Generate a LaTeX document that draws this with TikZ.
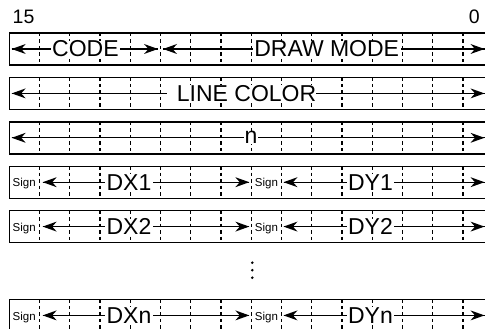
\documentclass[tikz,border=0pt]{standalone}
\usepackage{fontspec}
\setmainfont{Liberation Sans}
\usetikzlibrary{calc}
\newcommand\lefthead[1]{\fill (#1) -- ++(14,-5) -- ++(-4.5,5) -- ++(4.5,5) -- cycle;}
\newcommand\righthead[1]{\fill (#1) -- ++(-14,-5) -- ++(4.5,5) -- ++(-4.5,5) -- cycle;}
\begin{document}
\begin{tikzpicture}[x=1pt,y=-1pt,
 rowbox/.style={draw, line width=1.4pt, minimum width=484pt, minimum height=32pt, anchor=north west, inner sep=0pt, outer sep=0pt},
 cellsep/.style={line width=1.1pt, dash pattern=on 3.5pt off 3pt},
 fieldarrow/.style={line width=1.1pt},
 lbl/.style={fill=white, inner xsep=1.5pt, inner ysep=0pt, font=\fontsize{23}{23}\selectfont},
 sgn/.style={fill=white, inner sep=0.6pt, anchor=base, font=\fontsize{11.5}{12}\selectfont},
 bitnum/.style={font=\fontsize{19.5}{20}\selectfont, inner sep=0pt},
 dotmark/.style={fill=black, circle, inner sep=0pt, minimum size=2.8pt}]
\useasboundingbox (0,0) rectangle (485,329);
% rows
\foreach \r/\t in {1/33, 2/77.4, 3/121.8, 4/166.2, 5/210.6, 6/299.4}{
  \node[rowbox] (row\r) at (9.2,\t) {};
  \foreach \k in {1,...,15}{
    \draw[cellsep] ($(row\r.north west)+(30.25*\k,0)$) -- ++(0,32);
  }
}
% bit numbers
\node[bitnum, anchor=base west] (b15) at (12.5,24) {15};
\node[bitnum, anchor=base east] (b0) at (480,24) {0};
% row 1
\coordinate (c1a) at (11.7,49);
\coordinate (c1b) at (158,49);
\coordinate (c1c) at (163,49);
\coordinate (c1d) at (484.5,49);
\draw[fieldarrow] (c1a) -- (c1b);
\draw[fieldarrow] (c1c) -- (c1d);
\lefthead{c1a}\righthead{c1b}\lefthead{c1c}\righthead{c1d}
\node[lbl] (code) at (85.4,49) {CODE};
\node[lbl] (drawmode) at (326.7,49) {DRAW MODE};
% row 2
\coordinate (c2a) at (11.7,93.4);
\coordinate (c2b) at (484.5,93.4);
\draw[fieldarrow] (c2a) -- (c2b);
\lefthead{c2a}\righthead{c2b}
\node[lbl, inner xsep=0pt, anchor=west] (linecolor) at (166.7,93.4) {\hspace{10pt}LINE COLOR\hspace{18pt}};
% row 3
\coordinate (c3a) at (11.7,137.8);
\coordinate (c3b) at (484.5,137.8);
\draw[fieldarrow] (c3a) -- (c3b);
\lefthead{c3a}\righthead{c3b}
\node[lbl, inner xsep=1pt] (n) at (251,137.8) {n};
% rows 4,5,6
\foreach \r/\m/\s in {4/182.2/1, 5/226.6/2, 6/315.4/n}{
  \node[sgn] (sa\r) at (24.2,{\m+4.6}) {Sign};
  \node[sgn] (sb\r) at (266.4,{\m+4.6}) {Sign};
  \coordinate (d\r a) at (42.7,\m);
  \coordinate (d\r b) at (249.3,\m);
  \coordinate (d\r c) at (283.5,\m);
  \coordinate (d\r d) at (484.5,\m);
  \draw[fieldarrow] (d\r a) -- (d\r b);
  \draw[fieldarrow] (d\r c) -- (d\r d);
  \lefthead{d\r a}\righthead{d\r b}\lefthead{d\r c}\righthead{d\r d}
  \node[lbl] (dx\r) at (129,\m) {DX\s};
  \node[lbl] (dy\r) at (370.5,\m) {DY\s};
}
% ellipsis dots
\node[dotmark] (e1) at (252.3,262.7) {};
\node[dotmark] (e2) at (252.3,270.2) {};
\node[dotmark] (e3) at (252.3,277.7) {};
\end{tikzpicture}
\end{document}
